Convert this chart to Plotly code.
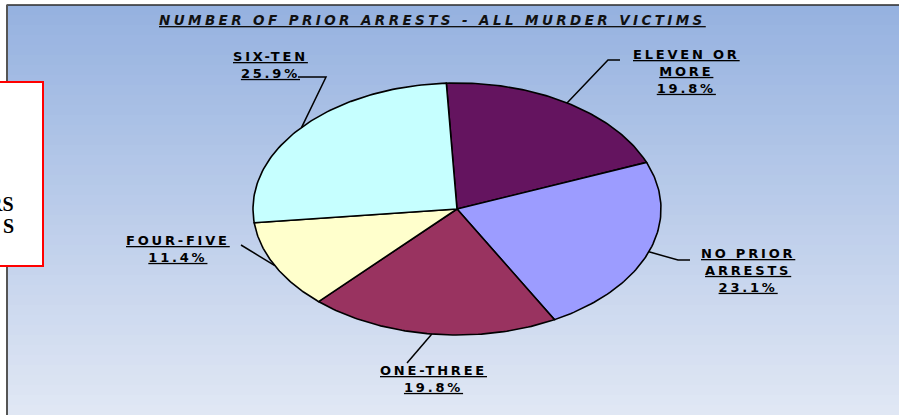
import numpy as np
import plotly.graph_objects as go

# ── Data ──────────────────────────────────────────────────────────────────────
categories = ["ELEVEN OR MORE", "NO PRIOR ARRESTS", "ONE-THREE", "FOUR-FIVE", "SIX-TEN"]
label_lines = [["ELEVEN OR", "MORE"], ["NO PRIOR", "ARRESTS"], ["ONE-THREE"], ["FOUR-FIVE"], ["SIX-TEN"]]
shares = [19.8, 23.1, 19.8, 11.4, 25.9]

TITLE = "NUMBER OF PRIOR ARRESTS - ALL MURDER VICTIMS"

# ── Style ─────────────────────────────────────────────────────────────────────
W, H = 899, 415
SLICE_COLORS = ["#64145F", "#9C9CFF", "#993360", "#FFFFCC", "#C6FFFF"]
TOP_RGB = (150, 178, 224)
BOT_RGB = (224, 231, 244)

# elliptical pie (the source picture is stretched sideways)
CX, CY, RX, RY = 457, 209, 204, 126
START_DEG = 93

# label centres and leader elbows/ends (pixel coords, y down)
LABEL_POS = [(686, 71), (748, 270), (433, 379), (178, 249), (270, 65)]
LEADER_END = [[(608, 60), (620, 60)], [(678, 260), (690, 260)],
              [(407, 363)], [(241, 245)], [(326, 77), (298, 77)]]

SPAN = ('<span style="font-weight:bold;text-decoration:underline;'
        'letter-spacing:{sp}px">{t}</span>')

fig = go.Figure()

# ── background gradient panel ────────────────────────────────────────────────
shapes = []
n_bands = 41
y0 = 5
band = (H - y0) / n_bands
for i in range(n_bands):
    f = i / (n_bands - 1)
    r, g, b = [round(a + (c - a) * f) for a, c in zip(TOP_RGB, BOT_RGB)]
    shapes.append(dict(type="rect", xref="x", yref="y", layer="below",
                       x0=7, x1=W, y0=y0 + i * band, y1=y0 + (i + 1) * band + 0.6,
                       fillcolor=f"rgb({r},{g},{b})", line=dict(width=0)))
shapes.append(dict(type="line", xref="x", yref="y", x0=6.5, x1=W, y0=5, y1=5,
                   line=dict(color="#2a2a2a", width=1.5)))
shapes.append(dict(type="line", xref="x", yref="y", x0=7, x1=7, y0=5, y1=H,
                   line=dict(color="#555555", width=2)))
# red-bordered box partly off the left edge
shapes.append(dict(type="rect", xref="x", yref="y", x0=-5, x1=43, y0=82, y1=266,
                   fillcolor="white", line=dict(color="#FF0000", width=2)))

# ── pie slices ────────────────────────────────────────────────────────────────
total = sum(shares)
cum = np.cumsum([0] + shares)
for i, (cat, v) in enumerate(zip(categories, shares)):
    a0 = np.radians(START_DEG - 360 * cum[i] / total)
    a1 = np.radians(START_DEG - 360 * cum[i + 1] / total)
    t = np.linspace(a0, a1, 80)
    xs = np.concatenate([[CX], CX + RX * np.cos(t), [CX]])
    ys = np.concatenate([[CY], CY - RY * np.sin(t), [CY]])
    fig.add_trace(go.Scatter(
        x=xs, y=ys, mode="lines", fill="toself", fillcolor=SLICE_COLORS[i],
        line=dict(color="black", width=1.6), hoveron="fills",
        name=cat, text=f"{cat}: {v}%", hoverinfo="text",
    ))

    # leader line from slice mid-point to label
    am = (a0 + a1) / 2
    px_, py_ = CX + RX * np.cos(am), CY - RY * np.sin(am)
    pts = [(px_, py_)] + LEADER_END[i]
    fig.add_trace(go.Scatter(
        x=[p[0] for p in pts], y=[p[1] for p in pts], mode="lines",
        line=dict(color="black", width=1.5), hoverinfo="skip",
    ))

annotations = []
for i, v in enumerate(shares):
    lines = label_lines[i] + [f"{v:.1f}%"]
    txt = "<br>".join(SPAN.format(sp=2.8, t=l) for l in lines)
    annotations.append(dict(
        x=LABEL_POS[i][0], y=LABEL_POS[i][1], xref="x", yref="y",
        text=txt, showarrow=False, align="center",
        font=dict(family="DejaVu Sans", size=13, color="black"),
    ))

annotations.append(dict(
    x=432, y=20, xref="x", yref="y", showarrow=False,
    text=('<span style="font-weight:bold;font-style:italic;'
          'text-decoration:underline;letter-spacing:3.4px">' + TITLE + '</span>'),
    font=dict(family="DejaVu Sans", size=13.5, color="#111111"),
))
for txt, yy in [("RS", 204), ("S", 226)]:
    annotations.append(dict(
        x=16, y=yy, xref="x", yref="y", xanchor="right", showarrow=False,
        text=f"<b>{txt}</b>",
        font=dict(family="Liberation Serif", size=20, color="black"),
    ))

fig.update_layout(
    width=W, height=H,
    margin=dict(l=0, r=0, t=0, b=0),
    paper_bgcolor="white", plot_bgcolor="rgba(0,0,0,0)",
    showlegend=False,
    xaxis=dict(range=[0, W], visible=False, fixedrange=True),
    yaxis=dict(range=[H, 0], visible=False, fixedrange=True),
    shapes=shapes, annotations=annotations,
)

fig.write_html(
    "out.html",
    config={"displayModeBar": False},
    post_script="document.body.style.margin='0';document.body.style.overflow='hidden';",
)
